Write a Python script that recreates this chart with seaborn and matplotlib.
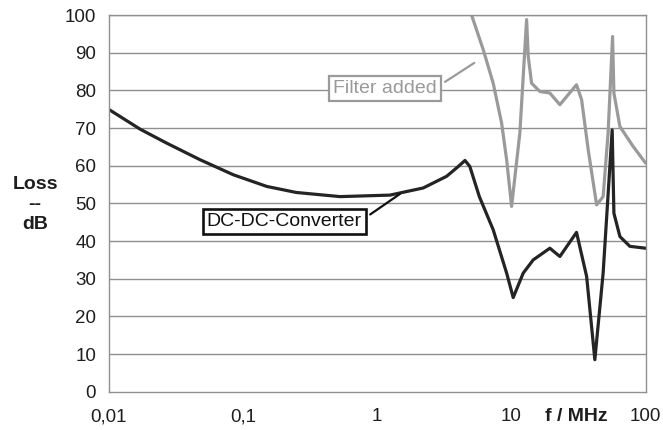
import matplotlib
matplotlib.use("Agg")
import matplotlib.pyplot as plt
import matplotlib.ticker as mticker
import seaborn as sns
import pandas as pd

# Insertion loss of the bare DC-DC converter (frequency in MHz, loss in dB)
conv_freq = [0.01, 0.0172, 0.0271, 0.048, 0.085, 0.151, 0.25, 0.53, 1.25, 2.21,
             3.30, 4.03, 4.52, 4.91, 5.78, 7.33, 9.23, 10.33, 12.27, 14.56,
             19.37, 23.0, 30.6, 36.4, 41.9, 48.3, 56.4, 58.1, 64.4, 76.4, 100.0]
conv_loss = [75.0, 69.7, 66.0, 61.6, 57.6, 54.5, 52.9, 51.8, 52.2, 54.1,
             57.2, 59.8, 61.4, 59.8, 51.8, 43.0, 31.5, 25.0, 31.5, 35.0,
             38.1, 35.9, 42.3, 30.6, 8.5, 31.5, 69.5, 47.4, 41.2, 38.6, 38.1]

# Insertion loss with the filter added
filt_freq = [5.06, 6.18, 7.33, 8.47, 9.23, 10.05, 11.58, 13.0, 13.37, 14.16,
             16.33, 19.37, 23.0, 30.6, 33.4, 37.4, 43.2, 48.3, 52.6, 56.8,
             58.1, 64.4, 80.9, 100.0]
filt_loss = [100.0, 90.8, 81.9, 71.3, 61.6, 49.2, 68.7, 98.8, 89.0, 81.9,
             79.7, 79.3, 76.2, 81.5, 77.5, 64.2, 49.6, 51.8, 68.7, 94.3,
             79.3, 70.4, 65.1, 60.7]

y_ticks = [0, 10, 20, 30, 40, 50, 60, 70, 80, 90, 100]
x_ticks = [0.01, 0.1, 1, 10, 100]
x_tick_labels = ["0,01", "0,1", "1", "10", "100"]

sns.set_style("white")
plt.rcParams["font.family"] = ["Liberation Sans", "DejaVu Sans"]

df = pd.concat([
    pd.DataFrame({"f": conv_freq, "loss": conv_loss, "series": "DC-DC-Converter"}),
    pd.DataFrame({"f": filt_freq, "loss": filt_loss, "series": "Filter added"}),
], ignore_index=True)

fig = plt.figure(figsize=(6.63, 4.30), dpi=100)
ax = fig.add_axes([0.1637, 0.089, 0.810, 0.876])

grid_col = "#8f8f8f"
dark = "#242424"
light = "#9a9a9a"
for yv in y_ticks[1:]:
    ax.axhline(yv, color=grid_col, lw=1.0, zorder=0)

sns.lineplot(data=df, x="f", y="loss", hue="series",
             palette={"DC-DC-Converter": dark, "Filter added": light},
             hue_order=["Filter added", "DC-DC-Converter"],
             linewidth=2.3, legend=False, sort=False, estimator=None, ax=ax)
for ln in ax.lines:
    ln.set_solid_joinstyle("round")
    ln.set_clip_on(True)

ax.set_xscale("log")
ax.set_xlim(0.01, 100)
ax.set_ylim(0, 100)
ax.set_xticks(x_ticks)
ax.set_xticklabels(x_tick_labels)
ax.xaxis.set_minor_locator(mticker.NullLocator())
ax.set_yticks(y_ticks)
ax.tick_params(axis="both", labelsize=13.5, labelcolor="#1e1e1e", length=5,
               width=1, direction="out", color=grid_col)
ax.tick_params(axis="x", pad=7)
ax.tick_params(axis="y", pad=4)

for s in ax.spines.values():
    s.set_color(grid_col)
    s.set_linewidth(1.0)

ax.set_xlabel("")
ax.set_ylabel("")

fig.text(0.053, 0.524, "Loss\n--\ndB", ha="center", va="center",
         fontsize=14, fontweight="bold", linespacing=1.25, color="#1e1e1e")
ax.annotate("f / MHz", xy=(0.871, 0), xytext=(0, -12),
            xycoords="axes fraction", textcoords="offset points",
            ha="center", va="top", fontsize=14, fontweight="bold",
            color="#1e1e1e")

ax.annotate("Filter added", xy=(5.3, 87.3), xytext=(1.146, 80.4),
            ha="center", va="center", fontsize=14, color=light,
            bbox=dict(boxstyle="square,pad=0.2", fc="white", ec=light, lw=1.6),
            arrowprops=dict(arrowstyle="-", color=light, lw=1.6,
                            relpos=(1.0, 0.6), shrinkA=3, shrinkB=0))

ax.annotate("DC-DC-Converter", xy=(1.48, 52.5), xytext=(0.204, 45.1),
            ha="center", va="center", fontsize=14, color="#111111",
            bbox=dict(boxstyle="square,pad=0.2", fc="white", ec="#111111", lw=1.9),
            arrowprops=dict(arrowstyle="-", color="#111111", lw=1.6,
                            relpos=(1.0, 0.6), shrinkA=3, shrinkB=0))

fig.savefig("out.png", dpi=100)
